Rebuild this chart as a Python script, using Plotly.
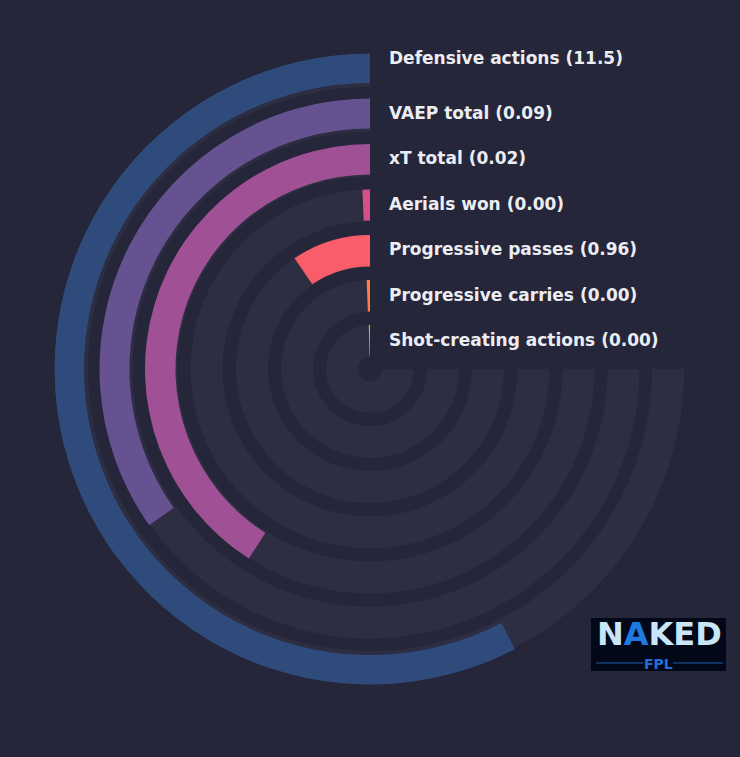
import plotly.graph_objects as go

# ---- data ----
metrics = ["Defensive actions", "VAEP total", "xT total", "Aerials won",
           "Progressive passes", "Progressive carries", "Shot-creating actions"]
raw_values = ["11.5", "0.09", "0.02", "0.00", "0.96", "0.00", "0.00"]
percentiles = [76.8, 46.4, 54.6, 0.9, 12.7, 0.8, 0.6]
colors = ["#2f4b7c", "#665191", "#a05195", "#d45087", "#f95d6a", "#ff7c43", "#ffa600"]

# ---- geometry / style ----
BG = "#252639"
TRACK = "#2d2e42"
MAX_SWEEP = 270.0
track_outer = [314.0, 269.5, 224.5, 179.5, 134.0, 89.0, 44.0]
track_w = 32.0
bar_in_off = [4.0, 3.0, 2.0, 1.0, 0.5, 0.5, 0.5]
bar_out_off = [1.5, 1.0, 0.5, 0.0, 0.0, 0.0, 0.0]
R_MAX = 316.0
label_y = [58, 112.5, 158, 203.5, 249, 294.5, 340]

W, H = 740, 757
cx, cy = 370, 369

fig = go.Figure()

# background tracks (270 degrees)
fig.add_trace(go.Barpolar(
    r=[track_w] * len(metrics),
    base=[o - track_w for o in track_outer],
    theta=[MAX_SWEEP / 2] * len(metrics),
    width=[MAX_SWEEP] * len(metrics),
    marker=dict(color=TRACK, line=dict(width=0)),
    hoverinfo="skip", showlegend=False,
))

# value bars
sweeps = [p / 100.0 * MAX_SWEEP for p in percentiles]
bases = [o - track_w + a for o, a in zip(track_outer, bar_in_off)]
tops = [o + b for o, b in zip(track_outer, bar_out_off)]
fig.add_trace(go.Barpolar(
    r=[t - b for t, b in zip(tops, bases)],
    base=bases,
    theta=[s / 2 for s in sweeps],
    width=sweeps,
    marker=dict(color=colors, line=dict(width=0)),
    hoverinfo="skip", showlegend=False,
))

fig.update_layout(
    width=W, height=H,
    paper_bgcolor=BG, plot_bgcolor=BG,
    margin=dict(l=0, r=0, t=0, b=0),
    polar=dict(
        bgcolor=BG,
        barmode="overlay",
        domain=dict(x=[(cx - R_MAX) / W, (cx + R_MAX) / W],
                    y=[(H - cy - R_MAX) / H, (H - cy + R_MAX) / H]),
        radialaxis=dict(range=[0, R_MAX], visible=False, showgrid=False),
        angularaxis=dict(rotation=90, direction="counterclockwise",
                         showgrid=False, showticklabels=False, ticks="",
                         showline=False),
    ),
)

# labels
for m, v, y in zip(metrics, raw_values, label_y):
    fig.add_annotation(
        x=387 / W, y=1 - y / H, xref="paper", yref="paper",
        xanchor="left", yanchor="middle", showarrow=False,
        text=f"<b>{m} ({v})</b>",
        font=dict(family="DejaVu Sans", size=17, color="#ecedf3"),
    )

# logo (approximation)
fig.add_shape(type="rect", xref="paper", yref="paper",
              x0=591 / W, x1=726 / W, y0=1 - 671 / H, y1=1 - 618 / H,
              fillcolor="#020817", line=dict(width=0), layer="above")
fig.add_annotation(x=659 / W, y=1 - 633.5 / H, xref="paper", yref="paper",
                   xanchor="center", yanchor="middle", showarrow=False,
                   text="<b>N<span style='color:#1f7ae0'>A</span>KED</b>",
                   font=dict(family="DejaVu Sans", size=32, color="#c8e6f7"))
fig.add_shape(type="line", xref="paper", yref="paper",
              x0=596 / W, x1=643 / W, y0=1 - 663 / H, y1=1 - 663 / H,
              line=dict(color="#1b5fae", width=1.2))
fig.add_shape(type="line", xref="paper", yref="paper",
              x0=673 / W, x1=723 / W, y0=1 - 663 / H, y1=1 - 663 / H,
              line=dict(color="#1b5fae", width=1.2))
fig.add_annotation(x=658 / W, y=1 - 663.5 / H, xref="paper", yref="paper",
                   xanchor="center", yanchor="middle", showarrow=False,
                   text="<b>FPL</b>",
                   font=dict(family="DejaVu Sans", size=14, color="#1f6fd6"))

fig.write_html(
    "out.html",
    config={"displayModeBar": False, "staticPlot": True},
    post_script="document.body.style.margin='0';"
                "document.body.style.background='#252639';"
                "document.body.style.overflow='hidden';",
)
